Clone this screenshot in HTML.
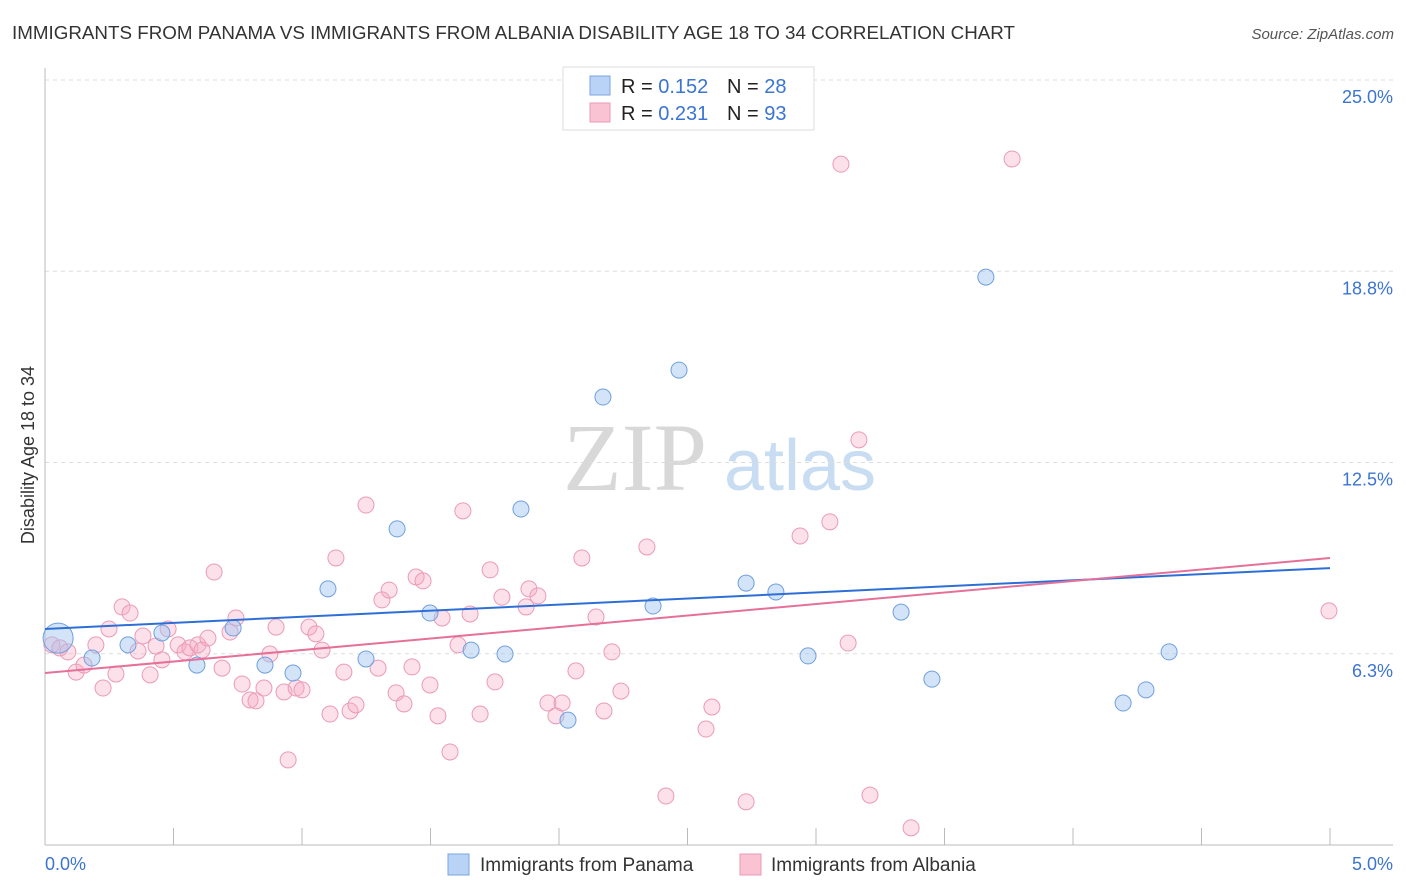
<!DOCTYPE html>
<html><head><meta charset="utf-8"><style>
body{margin:0;background:#fff;font-family:"Liberation Sans",sans-serif;}
svg{display:block}
</style></head><body>
<svg id="c" width="1406" height="892" xmlns="http://www.w3.org/2000/svg">
<text x="12" y="39" font-size="18" fill="#333" textLength="1003" lengthAdjust="spacingAndGlyphs">IMMIGRANTS FROM PANAMA VS IMMIGRANTS FROM ALBANIA DISABILITY AGE 18 TO 34 CORRELATION CHART</text>
<text x="1394" y="39" font-size="15" fill="#555" font-style="italic" text-anchor="end">Source: ZipAtlas.com</text>
<text x="635" y="490" font-size="96" font-family="Liberation Serif,serif" fill="#d8d8d8" text-anchor="middle">ZIP</text>
<text x="800" y="490" font-size="72" fill="#c8dcf2" text-anchor="middle">atlas</text>
<text transform="translate(34,455) rotate(-90)" font-size="18" fill="#333" text-anchor="middle">Disability Age 18 to 34</text>
<g id="grid"></g><g id="marks"></g>
<g>
<rect x="563" y="67" width="251" height="63" fill="#fff" stroke="#ddd"/>
<rect x="590" y="76" width="20" height="19" fill="#b8d3f5" stroke="#7aa6de"/>
<rect x="590" y="103" width="20" height="19" fill="#f9c3d4" stroke="#eb9ab6"/>
<text x="621" y="93" font-size="20" fill="#222">R = <tspan fill="#3b74d1">0.152</tspan></text>
<text x="727" y="93" font-size="20" fill="#222">N = <tspan fill="#3b74d1">28</tspan></text>
<text x="621" y="120" font-size="20" fill="#222">R = <tspan fill="#3b74d1">0.231</tspan></text>
<text x="727" y="120" font-size="20" fill="#222">N = <tspan fill="#3b74d1">93</tspan></text>
</g>
<g>
<rect x="448" y="854" width="21" height="21" fill="#b8d3f5" stroke="#7aa6de"/>
<text x="480" y="871" font-size="19" fill="#333">Immigrants from Panama</text>
<rect x="740" y="854" width="21" height="21" fill="#f9c3d4" stroke="#eb9ab6"/>
<text x="771" y="871" font-size="19" fill="#333">Immigrants from Albania</text>
</g>
</svg>
<script>
const yTicks=[25.0,18.8,12.5,6.3];
const yTickVals=[25,18.75,12.5,6.25];
const xTickLabels=["0.0%","5.0%"];
const panamaX=[0.051,0.183,0.323,0.455,0.591,0.732,0.856,0.965,1.101,1.249,1.370,1.498,1.658,1.790,1.852,2.035,2.171,2.366,2.467,2.728,2.844,2.969,3.331,3.451,3.661,4.195,4.284,4.374];
const panamaY=[6.76,6.11,6.54,6.93,5.88,7.09,5.88,5.62,8.37,6.08,10.33,7.58,6.37,6.24,10.98,4.08,14.64,7.81,15.52,8.56,8.27,6.18,7.61,5.42,18.56,4.64,5.07,6.31];
const albaniaX=[0.027,0.058,0.089,0.121,0.152,0.198,0.226,0.249,0.276,0.300,0.331,0.362,0.381,0.409,0.432,0.455,0.479,0.518,0.545,0.564,0.595,0.611,0.634,0.658,0.689,0.720,0.743,0.767,0.798,0.821,0.852,0.875,0.899,0.930,0.946,0.977,1.000,1.027,1.054,1.078,1.109,1.132,1.163,1.187,1.210,1.249,1.296,1.311,1.339,1.366,1.397,1.428,1.444,1.471,1.498,1.529,1.545,1.576,1.607,1.626,1.654,1.693,1.732,1.751,1.778,1.872,1.883,1.918,1.957,1.988,2.012,2.066,2.089,2.144,2.175,2.206,2.241,2.342,2.416,2.572,2.595,2.728,2.938,3.054,3.097,3.125,3.167,3.210,3.370,3.763,4.996];
const albaniaY=[6.54,6.44,6.31,5.65,5.88,6.54,5.13,7.06,5.59,7.78,7.58,6.34,6.83,5.56,6.50,6.05,7.06,6.54,6.31,6.44,6.54,6.37,6.76,8.92,5.78,6.96,7.42,5.26,4.74,4.71,5.13,6.24,7.12,5.00,2.78,5.13,5.07,7.12,6.90,6.37,4.28,9.38,5.65,4.38,4.58,11.11,5.78,8.01,8.33,4.97,4.61,5.82,8.76,8.63,5.23,4.22,7.42,3.04,6.54,10.92,7.55,4.28,8.99,5.33,8.10,7.78,8.37,8.14,4.64,4.22,4.64,5.69,9.38,7.45,4.38,6.31,5.03,9.74,1.60,3.79,4.51,1.41,10.10,10.56,22.25,6.60,13.24,1.63,0.56,22.42,7.65];
const panamaTrend=[7.06,9.05];
const albaniaTrend=[5.62,9.38];
const NS="http://www.w3.org/2000/svg";
const X0=45,X1=1330,Y0=845,PY=30.6;
function sx(v){return X0+(X1-X0)*v/5;}
function sy(v){return Y0-v*PY;}
function el(t,a,p){const e=document.createElementNS(NS,t);for(const k in a)e.setAttribute(k,a[k]);p.appendChild(e);return e;}
const g=document.getElementById('grid'),m=document.getElementById('marks');
yTickVals.forEach((v,i)=>{
 const l=el('line',{x1:45,x2:1393,y1:sy(v),y2:sy(v),stroke:'#ddd','stroke-dasharray':'4,4'},g);
 
 
 const t=el('text',{x:1393,y:sy(v)+23,'font-size':18,fill:'#3b74d1','text-anchor':'end'},g);
 t.textContent=yTicks[i].toFixed(1)+'%';
 
 
});
const ax=el('line',{x1:45,x2:45,y1:68,y2:845,stroke:'#bbb'},g);


const bx=el('line',{x1:45,x2:1393,y1:845,y2:845,stroke:'#bbb'},g);


for(let i=0;i<=10;i++){
 const tk=el('line',{x1:sx(i*0.5),x2:sx(i*0.5),y1:828,y2:845,stroke:'#bbb'},g);
 
 
}
[[0,'start',45],[5,'end',1393]].forEach((d,i)=>{
 const t=el('text',{x:d[2],y:870,'font-size':18,fill:'#3b74d1','text-anchor':d[1]},g);
 t.textContent=xTickLabels[i];
 
 
});
function pts(xs,ys,fill,stroke,name){
 xs.forEach((x,i)=>{
  const c=el('circle',{cx:sx(x),cy:sy(ys[i]),r:(name==='panama-point'&&i===0)?15:8,fill:fill,stroke:stroke,'stroke-width':1},m);
  
  
 });
}
pts(albaniaX,albaniaY,'rgba(246,170,196,0.35)','#eb9ab6','albania-point');
pts(panamaX,panamaY,'rgba(160,196,240,0.45)','#6fa0de','panama-point');
const l1=el('line',{x1:sx(0),y1:sy(panamaTrend[0]),x2:sx(5),y2:sy(panamaTrend[1]),stroke:'#2e6fd6','stroke-width':2},m);


const l2=el('line',{x1:sx(0),y1:sy(albaniaTrend[0]),x2:sx(5),y2:sy(albaniaTrend[1]),stroke:'#e5709a','stroke-width':2},m);


</script>
</body></html>
